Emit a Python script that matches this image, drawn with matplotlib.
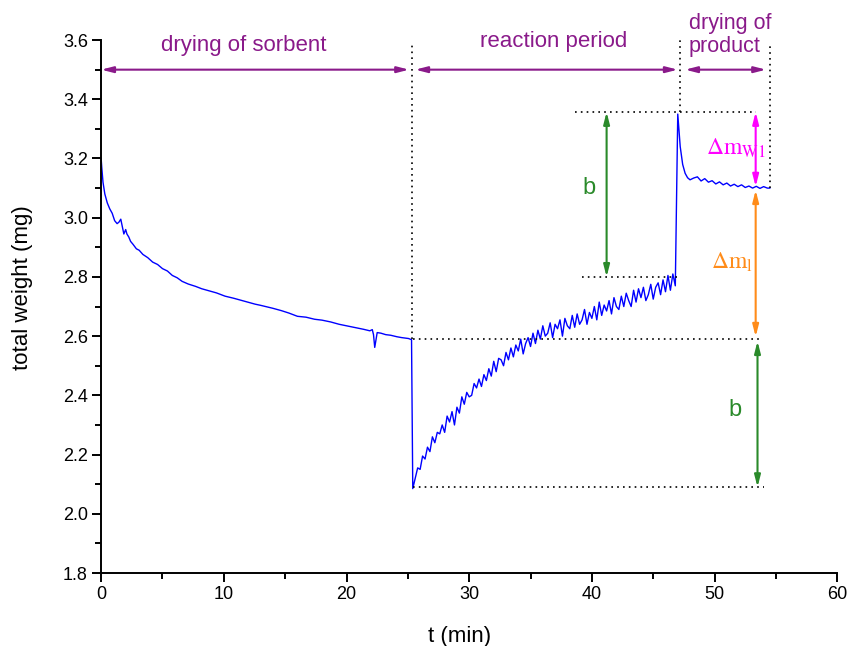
import matplotlib
matplotlib.use("Agg")
import matplotlib.pyplot as plt
from matplotlib.ticker import MultipleLocator

plt.rcParams["font.family"] = ["Liberation Sans", "DejaVu Sans"]
plt.rcParams["mathtext.fontset"] = "stix"

# drying of sorbent (min, mg)
t_dry = [0, 0.05, 0.15, 0.3, 0.5, 0.7, 0.9, 1.1, 1.3, 1.45, 1.6, 1.75, 1.85, 2.0, 2.1,
         2.25, 2.4, 2.6, 2.87, 3.1, 3.4, 3.8, 4.2, 4.6, 5.0, 5.4, 5.8, 6.2, 6.6, 7.1,
         7.7, 8.2, 8.8, 9.4, 10.1, 10.8, 11.5, 12.0, 12.55, 13.0, 13.4, 14.0, 14.7,
         15.3, 16.0, 16.7, 17.4, 18.0, 18.7, 19.4, 20.1, 20.7, 21.4, 21.9, 22.1, 22.2,
         22.3, 22.5, 22.8, 23.2, 23.6, 24.1, 24.5, 25.05, 25.3]
w_dry = [3.20, 3.17, 3.12, 3.08, 3.05, 3.03, 3.015, 2.99, 2.98, 2.985, 2.995, 2.965, 2.945,
         2.96, 2.945, 2.935, 2.92, 2.91, 2.895, 2.89, 2.876, 2.865, 2.85, 2.842, 2.828,
         2.82, 2.805, 2.797, 2.785, 2.776, 2.768, 2.76, 2.753, 2.746, 2.735, 2.728, 2.72,
         2.714, 2.708, 2.704, 2.7, 2.694, 2.686, 2.678, 2.667, 2.664, 2.657, 2.654, 2.648,
         2.64, 2.634, 2.629, 2.623, 2.618, 2.622, 2.605, 2.562, 2.612, 2.61, 2.605, 2.603,
         2.598, 2.595, 2.592, 2.588]

# reaction period, sampled every 0.2 min from 25.4 to 46.8
t_react = [25.4, 25.6, 25.8, 26.0, 26.2, 26.4, 26.6, 26.8, 27.0, 27.2,
           27.4, 27.6, 27.8, 28.0, 28.2, 28.4, 28.6, 28.8, 29.0, 29.2,
           29.4, 29.6, 29.8, 30.0, 30.2, 30.4, 30.6, 30.8, 31.0, 31.2,
           31.4, 31.6, 31.8, 32.0, 32.2, 32.4, 32.6, 32.8, 33.0, 33.2,
           33.4, 33.6, 33.8, 34.0, 34.2, 34.4, 34.6, 34.8, 35.0, 35.2,
           35.4, 35.6, 35.8, 36.0, 36.2, 36.4, 36.6, 36.8, 37.0, 37.2,
           37.4, 37.6, 37.8, 38.0, 38.2, 38.4, 38.6, 38.8, 39.0, 39.2,
           39.4, 39.6, 39.8, 40.0, 40.2, 40.4, 40.6, 40.8, 41.0, 41.2,
           41.4, 41.6, 41.8, 42.0, 42.2, 42.4, 42.6, 42.8, 43.0, 43.2,
           43.4, 43.6, 43.8, 44.0, 44.2, 44.4, 44.6, 44.8, 45.0, 45.2,
           45.4, 45.6, 45.8, 46.0, 46.2, 46.4, 46.6, 46.8]
w_react = [2.085, 2.12, 2.155, 2.15, 2.195, 2.185, 2.225, 2.21, 2.26, 2.24,
           2.275, 2.27, 2.30, 2.275, 2.33, 2.31, 2.345, 2.30, 2.36, 2.34,
           2.395, 2.37, 2.41, 2.395, 2.40, 2.44, 2.425, 2.455, 2.43, 2.47,
           2.45, 2.49, 2.465, 2.515, 2.48, 2.525, 2.52, 2.50, 2.545, 2.52,
           2.56, 2.53, 2.57, 2.55, 2.59, 2.54, 2.575, 2.595, 2.565, 2.61,
           2.575, 2.62, 2.59, 2.635, 2.60, 2.61, 2.645, 2.595, 2.64, 2.625,
           2.655, 2.60, 2.66, 2.635, 2.625, 2.67, 2.63, 2.675, 2.64, 2.655,
           2.69, 2.64, 2.68, 2.66, 2.70, 2.655, 2.715, 2.67, 2.705, 2.685,
           2.72, 2.675, 2.73, 2.70, 2.69, 2.735, 2.70, 2.745, 2.72, 2.70,
           2.755, 2.715, 2.76, 2.73, 2.765, 2.72, 2.74, 2.775, 2.725, 2.765,
           2.78, 2.74, 2.79, 2.75, 2.805, 2.755, 2.81, 2.77]

# drying of product
t_prod = [47.0, 47.2, 47.4, 47.6, 47.8, 48.0, 48.3, 48.6, 48.9, 49.2, 49.5, 49.8, 50.1,
          50.4, 50.7, 51.0, 51.3, 51.6, 51.9, 52.2, 52.5, 52.8, 53.1, 53.4, 53.7, 54.0,
          54.3, 54.5]
w_prod = [3.35, 3.24, 3.18, 3.15, 3.135, 3.128, 3.134, 3.138, 3.124, 3.132, 3.12, 3.125,
          3.114, 3.121, 3.111, 3.117, 3.107, 3.113, 3.105, 3.111, 3.102, 3.107, 3.10,
          3.106, 3.099, 3.105, 3.10, 3.10]

# characteristic levels (mg) and times (min)
w_sorbent_end = 2.59
w_min = 2.09
w_peak = 3.357
w_before_peak = 2.80
w_product = 3.10
t_start_react = 25.35
t_start_prod = 47.2
t_end = 54.5

PURPLE = "#8a1a8a"
GREEN = "#2a8a2a"
MAGENTA = "#ff00ff"
ORANGE = "#ff8c1a"

t_all = t_dry + t_react + t_prod
w_all = w_dry + w_react + w_prod

fig = plt.figure(figsize=(8.5, 6.46), dpi=100)
ax = fig.add_axes([0.119, 0.113, 0.866, 0.825])

ax.plot(t_all, w_all, color="#0000ff", linewidth=1.0)

ax.set_xlim(0, 60)
ax.set_ylim(1.8, 3.6)
ax.xaxis.set_major_locator(MultipleLocator(10))
ax.xaxis.set_minor_locator(MultipleLocator(5))
ax.yaxis.set_major_locator(MultipleLocator(0.2))
ax.yaxis.set_minor_locator(MultipleLocator(0.1))
ax.yaxis.set_major_formatter(plt.FormatStrFormatter("%.1f"))
ax.spines["top"].set_visible(False)
ax.spines["right"].set_visible(False)
for s in ("left", "bottom"):
    ax.spines[s].set_linewidth(1.4)
ax.tick_params(which="major", direction="out", length=6.5, width=1.4,
               labelsize=13, pad=3)
ax.tick_params(which="minor", direction="out", length=4, width=1.4)
ax.set_xlabel("t (min)", fontsize=16)
ax.set_ylabel("total weight (mg)", fontsize=16)
ax.xaxis.set_label_coords(0.487, -0.1195)
ax.yaxis.set_label_coords(-0.107, 0.535)
ax.xaxis.label.set_va("center")
ax.yaxis.label.set_va("center")

# dotted guide lines
dot = dict(color="black", linestyle=(0, (1, 2.5)), linewidth=1.2)
ax.plot([t_start_react, t_start_react], [w_sorbent_end, 3.59], **dot)
ax.plot([t_start_prod, t_start_prod], [w_peak, 3.60], **dot)
ax.plot([t_end, t_end], [w_product, 3.59], **dot)
ax.plot([25.4, 53.6], [w_sorbent_end, w_sorbent_end], **dot)
ax.plot([25.4, 54.0], [w_min, w_min], **dot)
ax.plot([38.6, 53.4], [w_peak, w_peak], **dot)
ax.plot([39.2, 47.0], [w_before_peak, w_before_peak], **dot)


def darrow(x0, y0, x1, y1, color):
    ax.annotate("", xy=(x1, y1), xytext=(x0, y0),
                arrowprops=dict(arrowstyle="<|-|>,head_length=0.7,head_width=0.18",
                                color=color, lw=1.5, shrinkA=0, shrinkB=0))


# period arrows
darrow(0, 3.5, 25.1, 3.5, PURPLE)
darrow(25.6, 3.5, 47.0, 3.5, PURPLE)
darrow(47.6, 3.5, 54.2, 3.5, PURPLE)
ax.text(11.65, 3.583, "drying of sorbent", color=PURPLE, fontsize=16,
        ha="center", va="center")
ax.text(36.9, 3.594, "reaction period", color=PURPLE, fontsize=16,
        ha="center", va="center")
ax.text(47.9, 3.617, "drying of\nproduct", color=PURPLE, fontsize=15.5,
        ha="left", va="center", linespacing=1.1, multialignment="left")

# weight difference arrows
darrow(41.2, w_peak, 41.2, w_before_peak, GREEN)
darrow(53.35, w_peak, 53.35, 3.105, MAGENTA)
darrow(53.35, 3.093, 53.35, 2.598, ORANGE)
darrow(53.5, 2.583, 53.5, w_min, GREEN)

ax.text(39.8, 3.10, "b", color=GREEN, fontsize=17, ha="center", va="center")
ax.text(51.7, 2.35, "b", color=GREEN, fontsize=17, ha="center", va="center")
ax.text(49.3, 3.235, r"$\Delta\mathrm{m}_{\mathrm{W1}}$", color=MAGENTA, fontsize=17,
        ha="left", va="center")
ax.text(49.7, 2.85, r"$\Delta\mathrm{m}_{\mathrm{l}}$", color=ORANGE, fontsize=17,
        ha="left", va="center")

fig.savefig("out.png", dpi=100)
